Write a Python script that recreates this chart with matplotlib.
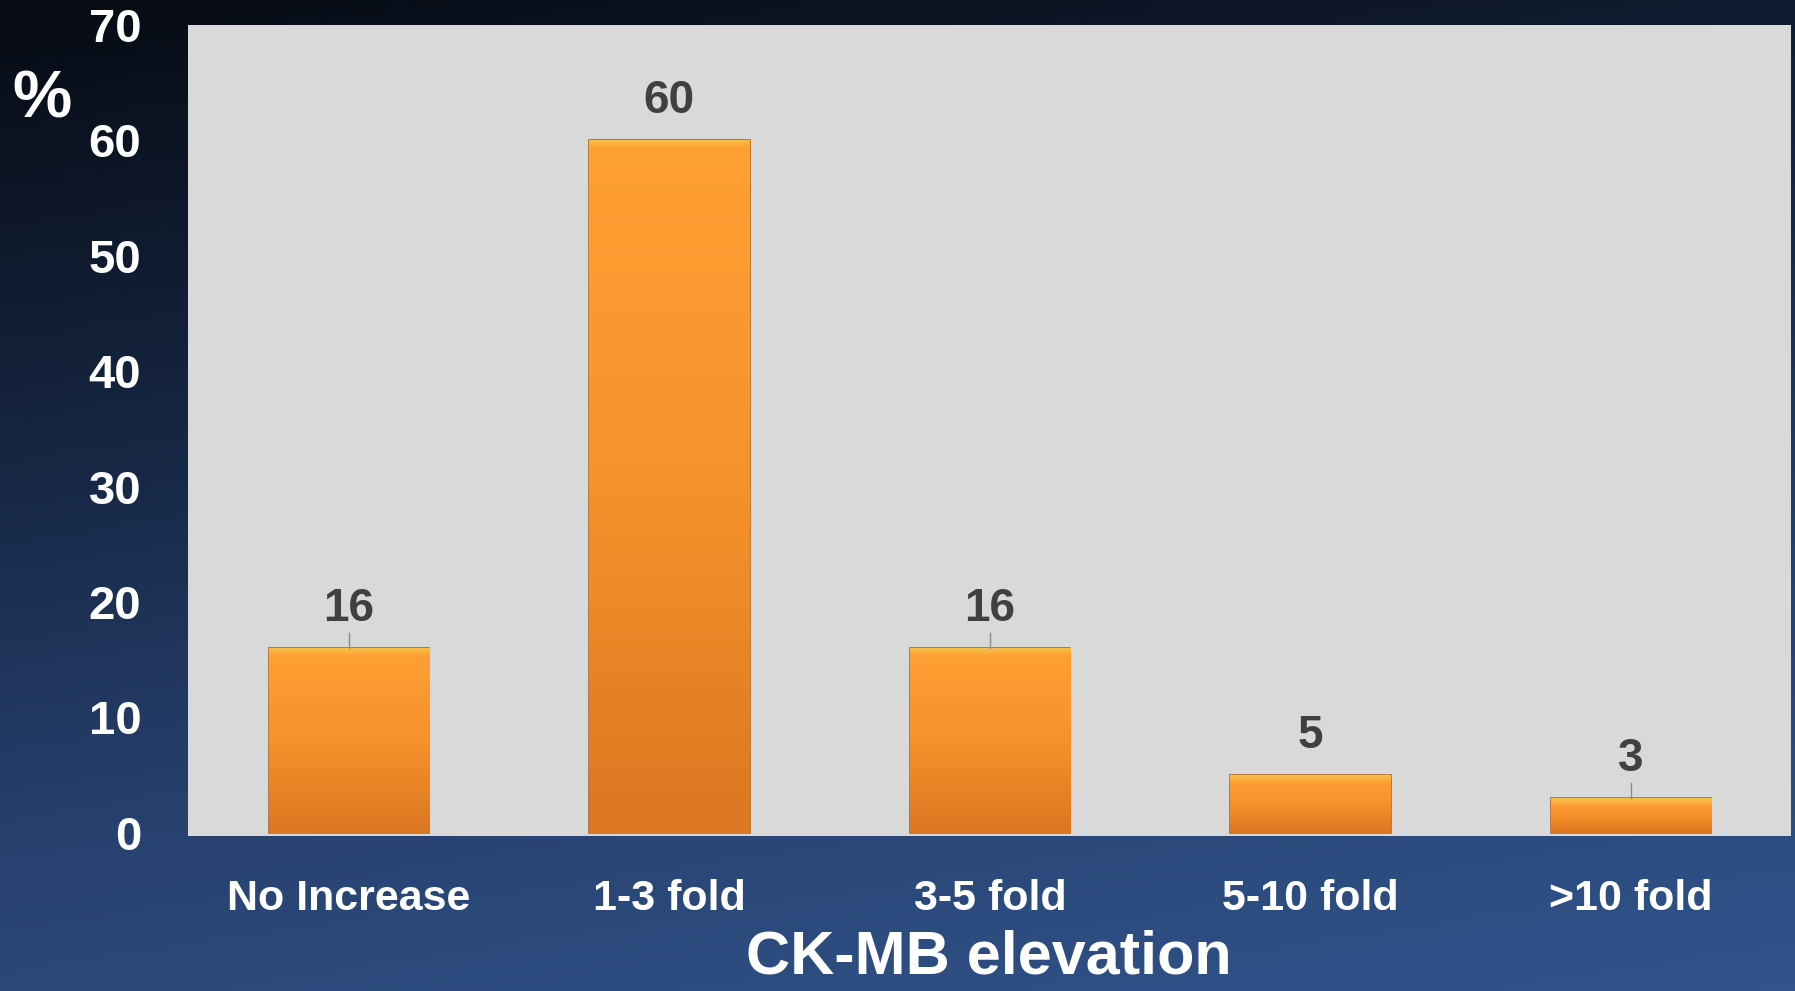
import numpy as np
import matplotlib.pyplot as plt
from matplotlib.colors import LinearSegmentedColormap

categories = ['No Increase', '1-3 fold', '3-5 fold', '5-10 fold', '>10 fold']
values = [16, 60, 16, 5, 3]
y_ticks = [0, 10, 20, 30, 40, 50, 60, 70]
x_title = 'CK-MB elevation'
y_title = '%'

plt.rcParams['font.family'] = ['Liberation Sans', 'DejaVu Sans']
plt.rcParams['font.weight'] = 'bold'

fig = plt.figure(figsize=(17.95, 9.91), dpi=100)

# dark navy -> blue background
bg = fig.add_axes([0, 0, 1, 1], zorder=-10)
yy, xx = np.mgrid[0:1:200j, 0:1:200j]
shade = 0.78 * yy + 0.22 * xx
bg_cmap = LinearSegmentedColormap.from_list(
    'bg', ['#070b13', '#15243f', '#27416f', '#31548c'])
bg.imshow(shade, aspect='auto', cmap=bg_cmap, extent=[0, 1, 0, 1], origin='upper')
bg.set_axis_off()

ax = fig.add_axes([0.105, 0.156, 0.893, 0.819])
ax.set_facecolor('#d9d9d9')

x = np.arange(len(categories))
bars = ax.bar(x, values, width=0.5, color='#F39129', edgecolor='#B9651E',
              linewidth=1.2, zorder=3)

# orange gradient inside each bar, thin light bevel on top
body_cmap = LinearSegmentedColormap.from_list('body', ['#FFA034', '#F6922B', '#DC7722'])
top_cmap = LinearSegmentedColormap.from_list('top', ['#F5C64C', '#FFA034'])
grad = np.linspace(0, 1, 64).reshape(-1, 1)
for b in bars:
    x0, w, h = b.get_x(), b.get_width(), b.get_height()
    im = ax.imshow(grad, aspect='auto', cmap=body_cmap, origin='upper',
                   extent=[x0, x0 + w, 0, h], zorder=3.5)
    im.set_clip_path(b)
    im2 = ax.imshow(grad, aspect='auto', cmap=top_cmap, origin='upper',
                    extent=[x0, x0 + w, h - 0.7, h], zorder=3.6)
    im2.set_clip_path(b)

# value labels (some with short leader lines)
for i, v in enumerate(values):
    if i in (0, 2, 4):
        ax.plot([x[i], x[i]], [v, v + 1.3], color='#8a8a8a', lw=1, zorder=4)
    ax.annotate(str(v), (x[i], v), xytext=(0, 28), textcoords='offset points',
                ha='center', va='center', fontsize=33, fontweight='bold',
                color='#404040')

ax.set_xlim(-0.5, 4.5)
ax.set_ylim(-0.3, 70)
ax.set_xticks(x)
ax.set_xticklabels(categories)
ax.set_yticks(y_ticks)
ax.tick_params(axis='y', length=0, pad=34, labelsize=34, labelcolor='white')
ax.tick_params(axis='x', length=0, pad=31, labelsize=31, labelcolor='white')
for s in ax.spines.values():
    s.set_visible(False)

fig.text(0.551, 1 - 958 / 991, x_title, ha='center', va='center',
         fontsize=44, fontweight='bold', color='white')
fig.text(42 / 1795, 1 - 101 / 991, y_title, ha='center', va='center',
         fontsize=48, fontweight='bold', color='white')

fig.savefig('out.png', dpi=100)
